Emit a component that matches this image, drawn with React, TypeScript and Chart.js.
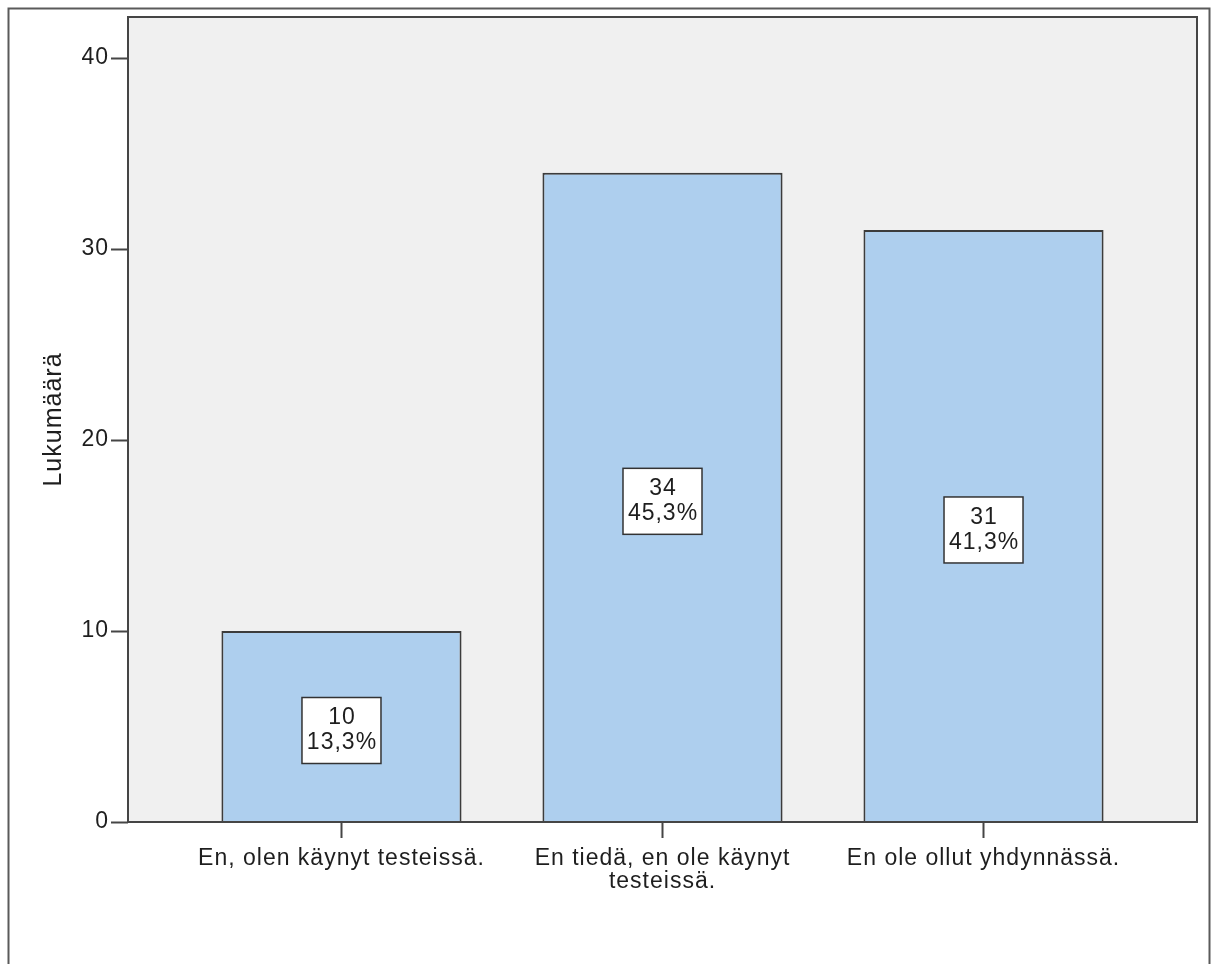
import React, { useEffect, useRef } from 'react';
import { Chart, registerables } from 'chart.js';

Chart.register(...registerables);

const categories: (string | string[])[] = [
  'En, olen käynyt testeissä.',
  ['En tiedä, en ole käynyt', 'testeissä.'],
  'En ole ollut yhdynnässä.',
];
const counts = [10, 34, 31];
const percents = ['13,3%', '45,3%', '41,3%'];
const yTicks = [0, 10, 20, 30, 40];
const yTitle = 'Lukumäärä';

const FONT = "'Liberation Sans', Arial, sans-serif";
const TEXT = '#1e1e1e';
const AXIS = '#454545';

export default function App() {
  const ref = useRef<HTMLCanvasElement>(null);

  useEffect(() => {
    const canvas = ref.current!;

    const decor = {
      id: 'decor',
      beforeDraw(chart: any) {
        const { ctx, chartArea: a } = chart;
        try { (ctx as any).letterSpacing = '1px'; } catch (e) {}
        ctx.save();
        ctx.fillStyle = '#ffffff';
        ctx.fillRect(0, 0, chart.width, chart.height);
        ctx.strokeStyle = '#5a5a5a';
        ctx.lineWidth = 2;
        ctx.strokeRect(8.5, 8.5, 1201, 1200);
        ctx.fillStyle = '#f0f0f0';
        ctx.fillRect(a.left, a.top, a.right - a.left, a.bottom - a.top);
        ctx.restore();
      },
      afterDatasetsDraw(chart: any) {
        const { ctx, chartArea: a } = chart;
        const xs = chart.scales.x;
        const ys = chart.scales.y;
        ctx.save();
        ctx.strokeStyle = AXIS;
        ctx.lineWidth = 2;
        ctx.strokeRect(a.left, a.top, a.right - a.left, a.bottom - a.top);
        counts.forEach((c, i) => {
          const cx = xs.getPixelForValue(i);
          const cy = ys.getPixelForValue(c / 2) + 4;
          const w = 79;
          const h = 66;
          ctx.fillStyle = '#ffffff';
          ctx.fillRect(cx - w / 2, cy - h / 2, w, h);
          ctx.strokeStyle = '#333333';
          ctx.lineWidth = 1.5;
          ctx.strokeRect(cx - w / 2, cy - h / 2, w, h);
          ctx.fillStyle = TEXT;
          ctx.font = `23px ${FONT}`;
          ctx.textAlign = 'center';
          ctx.textBaseline = 'middle';
          ctx.fillText(String(c), cx + 0.5, cy - 12.5);
          ctx.fillText(percents[i], cx + 0.5, cy + 12.5);
        });
        ctx.restore();
      },
    };

    const chart = new Chart(canvas, {
      type: 'bar',
      data: {
        datasets: [
          {
            data: counts.map((c, i) => ({ x: i, y: c })),
            backgroundColor: '#aecfee',
            borderColor: '#3c3c3c',
            borderWidth: 2,
            barPercentage: 0.748,
            categoryPercentage: 1,
          } as any,
        ],
      },
      options: {
        responsive: false,
        animation: false,
        layout: { padding: { left: 0, top: 17, right: 20, bottom: 0 } },
        plugins: { legend: { display: false }, tooltip: { enabled: false } },
        scales: {
          x: {
            type: 'linear',
            min: -0.665,
            max: 2.665,
            offset: false,
            grid: {
              drawOnChartArea: false,
              drawTicks: true,
              tickLength: 16,
              tickWidth: 2,
              tickColor: AXIS,
              offset: false,
            } as any,
            border: { display: false },
            afterBuildTicks: (s: any) => {
              s.ticks = categories.map((_, i) => ({ value: i }));
            },
            ticks: {
              callback: (v: any) => categories[v as number],
              font: { family: FONT, size: 23, lineHeight: 1.0 },
              color: TEXT,
              padding: 9.5,
              maxRotation: 0,
              autoSkip: false,
            },
            afterFit: (s: any) => {
              s.height = 142;
            },
          },
          y: {
            type: 'linear',
            min: 0,
            max: 42.15,
            afterBuildTicks: (s: any) => {
              s.ticks = yTicks.map((v) => ({ value: v }));
            },
            grid: {
              drawOnChartArea: false,
              drawTicks: true,
              tickLength: 17,
              tickWidth: 2,
              tickColor: AXIS,
            } as any,
            border: { display: false },
            ticks: {
              font: { family: FONT, size: 23 },
              color: TEXT,
              padding: 2,
            },
            title: {
              display: true,
              text: yTitle,
              font: { family: FONT, size: 25 },
              color: TEXT,
              padding: { top: 39, bottom: 0 },
            },
            afterFit: (s: any) => {
              s.width = 128;
            },
          },
        },
      },
      plugins: [decor],
    });

    return () => chart.destroy();
  }, []);

  return (
    <div style={{ position: 'fixed', left: 0, top: 0, width: 1217, height: 964, overflow: 'hidden' }}>
      <canvas ref={ref} width={1217} height={964} style={{ display: 'block' }} />
    </div>
  );
}
